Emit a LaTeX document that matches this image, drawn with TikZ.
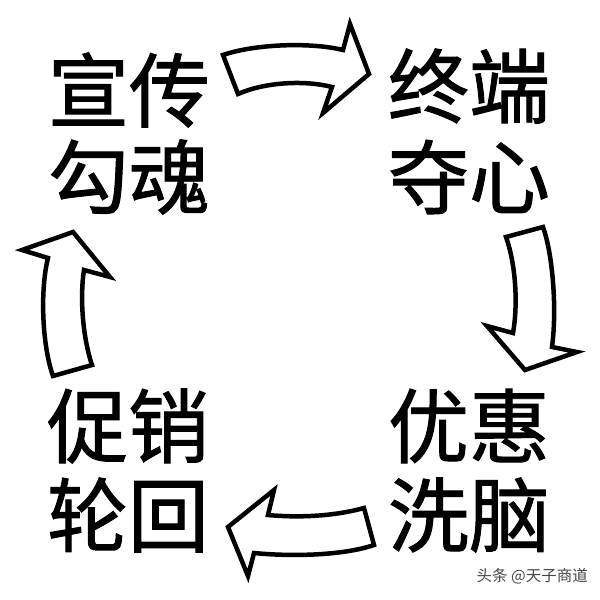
\documentclass[tikz,border=0pt]{standalone}
\usepackage{fontspec}
\newfontfamily\cjk[FakeBold=1.2]{Noto Sans CJK SC}
\newfontfamily\cjkthin{Noto Sans CJK SC}
\begin{document}
\begin{tikzpicture}[x=1pt,y=-1pt,
  big/.style={font=\cjk\fontsize{81}{81}\selectfont, inner sep=0pt, anchor=center},
  blockarrow/.style={draw=black, fill=white, line width=4.5pt, line join=miter, miter limit=10},
  wmark/.style={font=\cjkthin\fontsize{15.5}{15.5}\selectfont, text=black!72, inner sep=0pt}]
\useasboundingbox (0,0) rectangle (600,600);
\fill[white] (0,0) rectangle (600,600);
% texts
\node[big] (t1) at (129,90) {宣传};
\node[big] (t2) at (129,177) {勾魂};
\node[big] (r1) at (469,86) {终端};
\node[big] (r2) at (469,177) {夺心};
\node[big] (b1) at (469,426) {优惠};
\node[big] (b2) at (469,515) {洗脑};
\node[big] (l1) at (128,426) {促销};
\node[big] (l2) at (128,515) {轮回};
% top arrow
\draw[blockarrow] (223,55) .. controls (255,44) and (310,42) .. (343,50)
  -- (350,24) -- (369,74) -- (323,113) -- (332,87)
  .. controls (305,80) and (265,82) .. (238,94) -- cycle;
% right arrow
\draw[blockarrow] (543,227) .. controls (553,255) and (557,310) .. (552,347)
  -- (577,352) -- (525,370) -- (487,326) -- (513,333)
  .. controls (518,305) and (516,265) .. (506,237) -- cycle;
% bottom arrow
\draw[blockarrow] (364,508) .. controls (335,516) and (300,518) .. (268,515)
  -- (274,490) -- (228,527) -- (248,576) -- (254,553)
  .. controls (295,557) and (345,555) .. (374,545) -- cycle;
% left arrow
\draw[blockarrow] (53,376) .. controls (42,345) and (40,290) .. (48,258)
  -- (22,250) -- (73,232) -- (110,277) -- (84,270)
  .. controls (80,295) and (82,335) .. (92,365) -- cycle;
% watermark
\node[wmark, anchor=east] (wm) at (588,576) {头条 @天子商道};
\end{tikzpicture}
\end{document}
